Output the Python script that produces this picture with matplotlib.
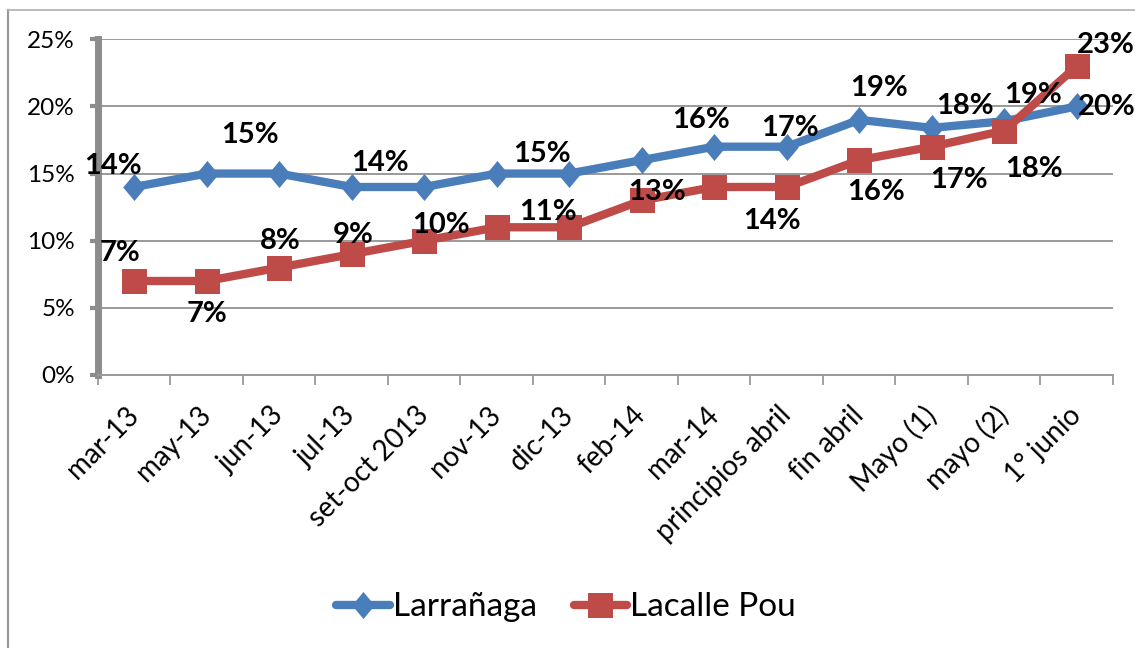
import matplotlib.pyplot as plt
from matplotlib.lines import Line2D
from matplotlib.path import Path
import numpy as np

plt.rcParams['font.family'] = ['Lato', 'DejaVu Sans']

# data
categories = ['mar-13', 'may-13', 'jun-13', 'jul-13', 'set-oct 2013', 'nov-13', 'dic-13',
              'feb-14', 'mar-14', 'principios abril', 'fin abril', 'Mayo (1)', 'mayo (2)', '1° junio']
larranaga = [14, 15, 15, 14, 14, 15, 15, 16, 17, 17, 19, 18.4, 18.9, 20]
lacalle = [7, 7, 8, 9, 10, 11, 11, 13, 14, 14, 16, 17, 18.2, 23]

# which points carry a data label
larr_shown = [0, 2, 3, 6, 7, 9, 10, 11, 12, 13]
lac_shown = [0, 1, 2, 3, 4, 6, 7, 9, 10, 11, 12, 13]

# label offsets (pixels, right / up) for each shown point
larr_off = [(-21, 21), (-29, 39), (28, 24), (-27, 20), (59, 40), (3, 19),
            (20, 32), (33, 22), (29, 26), (30, -1)]
lac_off = [(-14, 28), (0, -33), (1, 27), (1, 19), (17, 16), (-21, 15), (15, 8),
           (-15, -34), (17, -32), (27, -33), (30, -38), (29, 21)]

blue = '#4A7EBB'
red = '#BE4B48'
grey = '#8c8c8c'

diamond = Path([(0, -1.2), (1, 0), (0, 1.2), (-1, 0), (0, -1.2)],
               [Path.MOVETO, Path.LINETO, Path.LINETO, Path.LINETO, Path.CLOSEPOLY])

fig = plt.figure(figsize=(11.35, 6.48), dpi=100)
ax = fig.add_axes([0.0863, 0.4213, 0.8943, 0.5181])

x = np.arange(len(categories))
ax.plot(x, larranaga, color=blue, lw=6, marker=diamond, ms=19.5, mew=0,
        solid_joinstyle='round', label='Larrañaga', zorder=3)
ax.plot(x, lacalle, color=red, lw=6, marker='s', ms=18, mew=0,
        solid_joinstyle='round', label='Lacalle Pou', zorder=4)

for vals, shown, offs in [(larranaga, larr_shown, larr_off), (lacalle, lac_shown, lac_off)]:
    for i, (dx, dy) in zip(shown, offs):
        ax.annotate(f'{round(vals[i])}%', (x[i], vals[i]), xytext=(dx, dy),
                    textcoords='offset pixels', ha='center', va='center',
                    fontsize=21, fontweight='bold', color='black', zorder=6)

ax.set_xlim(-0.5, len(categories) - 0.5)
ax.set_ylim(0, 25)
ax.set_yticks(np.arange(0, 26, 5))
ax.set_yticklabels([f'{v}%' for v in range(0, 26, 5)])
ax.yaxis.grid(True, color='#9a9a9a', lw=1.4)
ax.set_axisbelow(True)

ax.set_xticks(x)
ax.set_xticklabels(categories, rotation=45, ha='right', rotation_mode='anchor')
plt.setp(ax.get_xticklabels(), va='center')
ax.set_xticks(np.arange(-0.5, len(categories)), minor=True)
ax.tick_params(axis='x', which='major', length=0, pad=26, labelsize=20)
ax.tick_params(axis='x', which='minor', length=7, width=1.3, color='#9a9a9a', direction='out')
ax.tick_params(axis='y', length=5.5, width=3, color=grey, pad=11, labelsize=17.5)

for s in ['top', 'right']:
    ax.spines[s].set_visible(False)
ax.spines['left'].set_color(grey)
ax.spines['left'].set_linewidth(5)
ax.spines['bottom'].set_color('#9a9a9a')
ax.spines['bottom'].set_linewidth(1.4)

leg = fig.legend(loc='center', bbox_to_anchor=(0.499, 0.063), ncol=2, frameon=False,
                 fontsize=24, handlelength=1.6, handletextpad=0.1, columnspacing=1.1)
for h in leg.legend_handles:
    h.set_solid_capstyle('round')

# outer chart frame (left and top edges visible)
fig.add_artist(Line2D([8 / 1135, 8 / 1135], [0, 1 - 10 / 648], color='#9a9a9a', lw=1.6))
fig.add_artist(Line2D([8 / 1135, 1], [1 - 10 / 648, 1 - 10 / 648], color='#b0b0b0', lw=1.2))

plt.savefig('out.png', dpi=100)
